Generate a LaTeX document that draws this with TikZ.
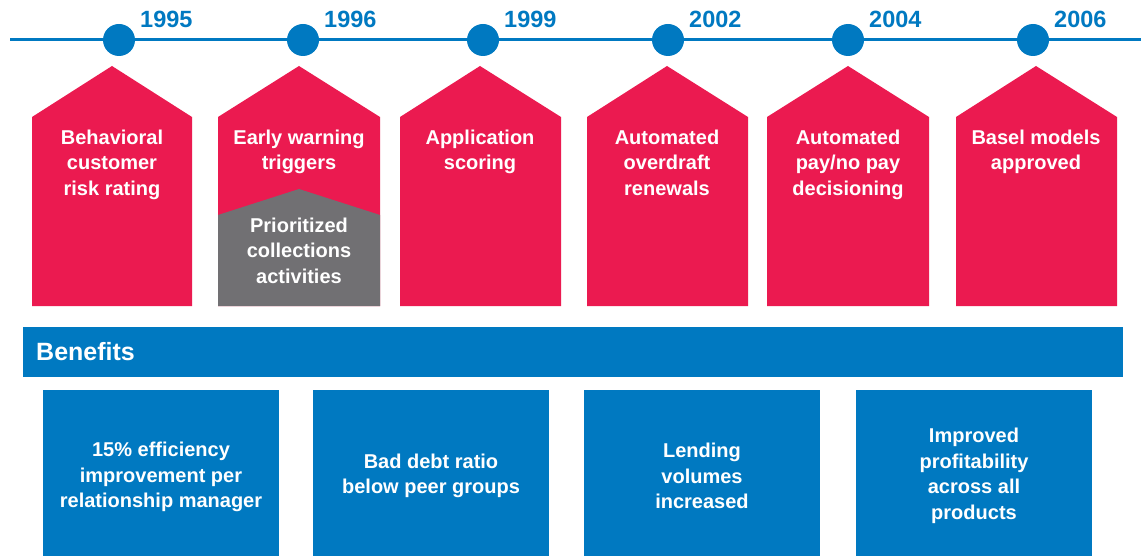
\documentclass[tikz,border=0pt]{standalone}
\usepackage{fontspec}
\setmainfont{Liberation Sans}
\definecolor{tlblue}{HTML}{0079C1}
\definecolor{tlred}{HTML}{EB1A50}
\definecolor{tlgrey}{HTML}{717073}
\begin{document}
\begin{tikzpicture}[x=1pt,y=-1pt,
  yearlabel/.style={anchor=base west, inner sep=0pt, text=tlblue, font=\bfseries\fontsize{23.5}{26}\selectfont},
  dot/.style={circle, fill=tlblue, minimum size=32pt, inner sep=0pt},
  house/.style={fill=tlred},
  housetext/.style={anchor=north, inner sep=0pt, align=center, text=white, font=\bfseries\fontsize{20}{25.5}\selectfont},
  benefitbox/.style={fill=tlblue},
  benefittext/.style={anchor=center, inner sep=0pt, align=center, text=white, font=\bfseries\fontsize{20}{25.5}\selectfont}]
\useasboundingbox (0,0) rectangle (1141,556);
% timeline
\coordinate (tlstart) at (10,40);
\coordinate (tlend) at (1141,40);
\draw[tlblue, line width=3pt] (tlstart) -- (tlend);
\foreach \cx/\yr/\nm in {119/1995/a,303/1996/b,483/1999/c,668/2002/d,848/2004/e,1033/2006/f}{
  \node[dot] (dot\nm) at (\cx,40) {};
  \node[yearlabel] (year\nm) at (\cx+21,28) {\yr};
}
% red houses
\foreach \xa/\xb/\ap in {32/192/112, 218/380/299, 400/561/480, 587/748/667, 767/929/848, 956/1117/1036}{
  \fill[house] (\xa,306) -- (\xa,117) -- (\ap,66) -- (\xb,117) -- (\xb,306) -- cycle;
}
% grey sub-house
\fill[tlgrey] (218,306) -- (218,215) -- (299,189) -- (380,215) -- (380,306) -- cycle;
% house texts
\node[housetext] (t1) at (112,129.5) {Behavioral\\customer\\risk rating};
\node[housetext] (t2) at (299,129.5) {Early warning\\triggers};
\node[housetext] (t2b) at (299,217.5) {Prioritized\\collections\\activities};
\node[housetext] (t3) at (480,129.5) {Application\\scoring};
\node[housetext] (t4) at (667,129.5) {Automated\\overdraft\\renewals};
\node[housetext] (t5) at (848,129.5) {Automated\\pay/no pay\\decisioning};
\node[housetext] (t6) at (1036,129.5) {Basel models\\approved};
% benefits bar
\fill[tlblue] (23,327) rectangle (1123,377);
\node[anchor=west, inner sep=0pt, text=white, font=\bfseries\fontsize{25}{28}\selectfont] (benefits) at (36,352) {Benefits};
% benefit boxes
\foreach \xa/\xb in {43/279, 313/549, 584/820, 856/1092}{
  \fill[benefitbox] (\xa,390) rectangle (\xb,560);
}
\node[benefittext] (b1) at (161,477) {15\% efficiency\\improvement per\\relationship manager};
\node[benefittext] (b2) at (431,476) {Bad debt ratio\\below peer groups};
\node[benefittext] (b3) at (702,476) {Lending\\volumes\\increased};
\node[benefittext] (b4) at (974,476) {Improved\\profitability\\across all\\products};
\end{tikzpicture}
\end{document}
